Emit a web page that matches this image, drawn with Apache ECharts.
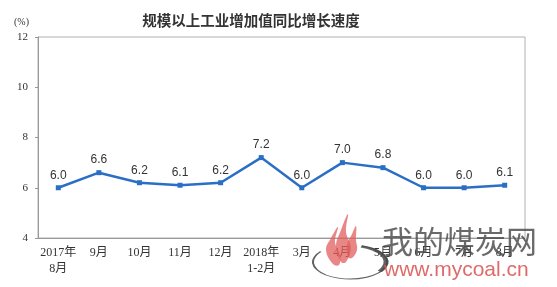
<!DOCTYPE html>
<html><head><meta charset="utf-8">
<script src="https://cdn.jsdelivr.net/npm/echarts@6/dist/echarts.min.js"></script>
<style>html,body{margin:0;padding:0;background:#fff}#c{width:557px;height:287px}</style>
</head><body><div id="c"></div>
<script>
const categories = ['2017年\n8月','9月','10月','11月','12月','2018年\n1-2月','3月','4月','5月','6月','7月','8月'];
const values = [6.0,6.6,6.2,6.1,6.2,7.2,6.0,7.0,6.8,6.0,6.0,6.1];
const yTicks = [4,6,8,10,12];
const chart = echarts.init(document.getElementById('c'), null, {renderer:'canvas'});
const flame = 'rgba(225,95,95,0.75)';
chart.setOption({
  animation:false,
  title:{text:'规模以上工业增加值同比增长速度', left:246, top:8, textAlign:'center',
    textStyle:{fontSize:14.5, fontWeight:'bold', color:'#333', fontFamily:'Noto Sans CJK SC'}},
  grid:{left:38, right:32, top:37, bottom:49, show:true, borderColor:'#b0b0b0', borderWidth:1},
  xAxis:{type:'category', data:categories, boundaryGap:true,
    axisLine:{lineStyle:{color:'#999', width:1}},
    axisTick:{inside:true, length:4, lineStyle:{color:'#999'}},
    axisLabel:{interval:0, color:'#333', fontSize:12, lineHeight:16, margin:7,
      fontFamily:'Liberation Serif, Noto Sans CJK SC'}},
  yAxis:{type:'value', min:4, max:12, interval:2,
    splitLine:{show:false},
    axisLine:{show:true, lineStyle:{color:'#999'}},
    axisTick:{show:true, length:3, lineStyle:{color:'#999'}},
    axisLabel:{color:'#333', fontSize:11, margin:10, fontFamily:'Liberation Serif',
      formatter:v=>yTicks.includes(v)?String(v):''}},
  series:[{type:'line', data:values, color:'#2a6fc4',
    lineStyle:{width:2.5, color:'#2a6fc4'},
    symbol:'rect', symbolSize:5, itemStyle:{color:'#2a6fc4'},
    label:{show:true, position:'top', distance:4, color:'#333', fontSize:12,
      fontFamily:'Liberation Sans', formatter:p=>p.value.toFixed(1)}}],
  graphic:[
    {type:'text', left:14, top:17, style:{text:'(%)', fontSize:10, fill:'#333', fontFamily:'Liberation Serif'}},
    {type:'arc', z:100, x:350, y:262, scaleX:1, scaleY:0.46,
      shape:{cx:0, cy:0, r:37, startAngle:-1.25, endAngle:3.8, clockwise:true},
      style:{stroke:'rgba(70,70,70,0.85)', lineWidth:2, fill:null}},
    {type:'arc', z:100, x:350, y:262, scaleX:1, scaleY:0.46,
      shape:{cx:0, cy:0, r:36, startAngle:-1.25, endAngle:0.6, clockwise:true},
      style:{stroke:'rgba(70,70,70,0.85)', lineWidth:5, fill:null}},
    {type:'polygon', z:100, shape:{smooth:0.4, points:[[333,264],[326,250],[331,238],[338,227],[335,242],[340,255],[339,265]]},
      style:{fill:flame}},
    {type:'polygon', z:100, shape:{smooth:0.4, points:[[341,262],[336,246],[341,230],[348,214],[346,232],[351,248],[346,262]]},
      style:{fill:flame}},
    {type:'polygon', z:100, shape:{smooth:0.4, points:[[348,257],[347,245],[352,234],[356,226],[356,240],[357,250],[352,258]]},
      style:{fill:flame}},
    {type:'text', z:100, left:382, top:226, style:{text:'我的煤炭网', fontSize:31, fill:'rgba(80,80,80,0.85)', fontFamily:'Noto Sans CJK SC'}},
    {type:'text', z:100, left:384, top:260, style:{text:'www.mycoal.cn', fontSize:21, fill:'rgba(220,90,90,0.9)', fontFamily:'Liberation Sans'}}
  ]
});
</script></body></html>
